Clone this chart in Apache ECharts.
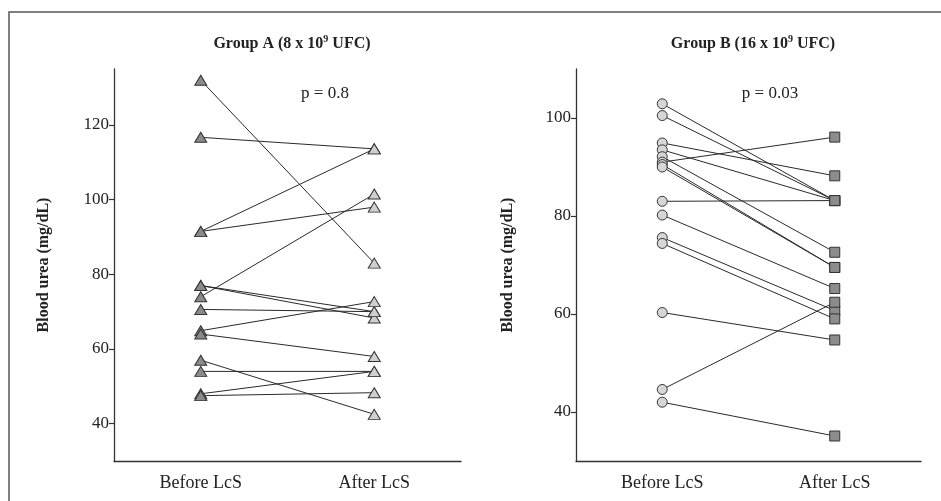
<!DOCTYPE html>
<html>
<head>
<meta charset="utf-8">
<script src="https://cdn.jsdelivr.net/npm/echarts@6/dist/echarts.min.js"></script>
<style>html,body{margin:0;padding:0;background:#fff}#c{width:941px;height:501px}</style>
</head>
<body>
<div id="c"></div>
<script>
const categories = ['Before LcS', 'After LcS'];
const groupABefore = [132, 116.7, 91.5, 91.5, 74, 77, 77, 70.6, 64.9, 64, 57, 54, 48, 47.5];
const groupAAfter  = [83, 113.6, 113.6, 98, 101.5, 70, 68.3, 70, 72.7, 58, 42.5, 54, 54, 48.3];
const groupBBefore = [102.9, 100.5, 94.9, 93.5, 92.1, 91.0, 90.5, 90.0, 83.0, 80.2, 75.6, 74.4, 60.3, 44.6, 42.0];
const groupBAfter  = [83.15, 83.15, 88.2, 83.15, 72.6, 96.1, 69.5, 69.5, 83.15, 65.2, 60.7, 59.0, 54.7, 62.4, 35.1];
const ticksA = [40, 60, 80, 100, 120];
const ticksB = [40, 60, 80, 100];
const titleA = 'Group A (8 x 10';
const titleB = 'Group B (16 x 10';
const pA = 'p = 0.8';
const pB = 'p = 0.03';
const yName = 'Blood urea (mg/dL)';

const FONT = '"Liberation Serif", "Times New Roman", serif';
const chart = echarts.init(document.getElementById('c'), null, {renderer: 'canvas'});

function xAxis(gi) {
  return {
    type: 'category', gridIndex: gi, data: categories, boundaryGap: true,
    axisLine: {lineStyle: {color: '#333', width: 1.3}},
    axisTick: {alignWithLabel: true, length: 5, lineStyle: {color: '#333', width: 1.2}},
    axisLabel: {color: '#222', fontFamily: FONT, fontSize: 18, margin: 13}
  };
}
function yAxis(gi, min, max, ticks, gap) {
  return {
    type: 'value', gridIndex: gi, min: min, max: max,
    name: yName, nameLocation: 'middle', nameGap: gap,
    nameTextStyle: {color: '#222', fontFamily: FONT, fontSize: 16, fontWeight: 'bold'},
    splitLine: {show: false},
    axisLine: {show: true, lineStyle: {color: '#333', width: 1.3}},
    axisTick: {show: true, length: 5, customValues: ticks, lineStyle: {color: '#333', width: 1.2}},
    axisLabel: {color: '#222', fontFamily: FONT, fontSize: 17, margin: 5, customValues: ticks}
  };
}

const series = [];
function addGroup(gi, before, after, bSym, aSym, bCol, aCol, bSize, aSize) {
  for (let i = 0; i < before.length; i++) {
    series.push({
      type: 'line', xAxisIndex: gi, yAxisIndex: gi,
      data: [before[i], after[i]], showSymbol: false, symbol: 'none',
      lineStyle: {color: '#2a2a2a', width: 1}, z: 2, silent: true, animation: false
    });
  }
  series.push({
    type: 'scatter', xAxisIndex: gi, yAxisIndex: gi,
    data: before.map(v => [0, v]), symbol: bSym, symbolSize: bSize,
    itemStyle: {color: bCol, borderColor: '#333', borderWidth: 1, opacity: 1}, z: 5, animation: false
  });
  series.push({
    type: 'scatter', xAxisIndex: gi, yAxisIndex: gi,
    data: after.map(v => [1, v]), symbol: aSym, symbolSize: aSize,
    itemStyle: {color: aCol, borderColor: '#333', borderWidth: 1, opacity: 1}, z: 5, animation: false
  });
}
addGroup(0, groupABefore, groupAAfter, 'triangle', 'triangle', '#8a8a8a', '#cfcfcf', [12, 10], [12, 10]);
addGroup(1, groupBBefore, groupBAfter, 'circle', 'rect', '#d6d6d6', '#8c8c8c', 10, 10);

function titleOpt(txt, x) {
  return {
    text: '{a|' + txt + '}{s|9}{a| UFC)}', left: x, top: 29, textAlign: 'center',
    textStyle: {
      rich: {
        a: {fontFamily: FONT, fontSize: 16, fontWeight: 'bold', color: '#222', lineHeight: 20},
        s: {fontFamily: FONT, fontSize: 10, fontWeight: 'bold', color: '#222', lineHeight: 20, verticalAlign: 'top', padding: [0, 0, 8, 0]}
      }
    }
  };
}

chart.setOption({
  animation: false,
  backgroundColor: '#fff',
  title: [titleOpt(titleA, 287), titleOpt(titleB, 748)],
  grid: [
    {left: 114, right: 480, top: 69, bottom: 40},
    {left: 576, right: 20, top: 69, bottom: 40}
  ],
  xAxis: [xAxis(0), xAxis(1)],
  yAxis: [yAxis(0, 30, 135, ticksA, 62), yAxis(1, 30, 110, ticksB, 60)],
  series: series,
  graphic: [
    {type: 'rect', shape: {x: 9, y: 12, width: 1200, height: 1000}, style: {fill: 'none', stroke: '#555', lineWidth: 1.5}, silent: true},
    {type: 'text', x: 325, y: 94, style: {text: pA, font: '17px ' + FONT, fill: '#222', textAlign: 'center', textVerticalAlign: 'middle'}},
    {type: 'text', x: 770, y: 94, style: {text: pB, font: '17px ' + FONT, fill: '#222', textAlign: 'center', textVerticalAlign: 'middle'}}
  ]
});
</script>
</body>
</html>
